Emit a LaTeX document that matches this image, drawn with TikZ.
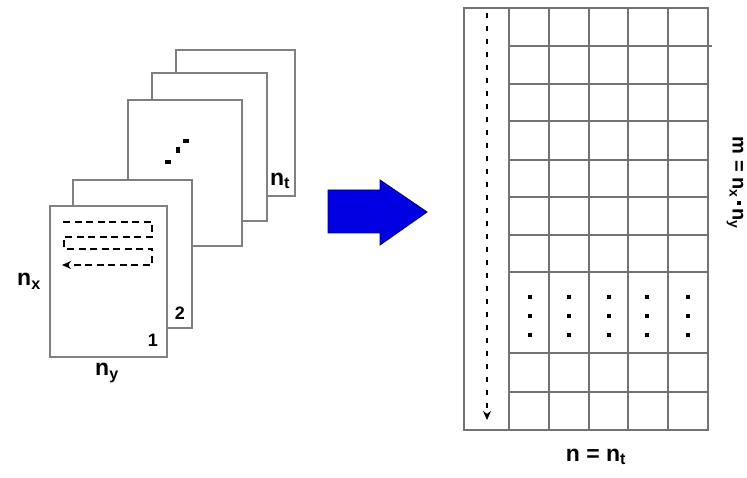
\documentclass[tikz,border=0pt]{standalone}
\usepackage{fontspec}
\setmainfont{Liberation Sans}
\usetikzlibrary{arrows.meta}
\tikzset{
  sheet/.style={draw=black!50, line width=1.1pt, fill=white},
  gridline/.style={draw=black!55, line width=1.1pt},
  scan/.style={draw=black, line width=1.8pt, dash pattern=on 7pt off 4.5pt},
  lbl/.style={font=\fontsize{23}{26}\selectfont\bfseries, inner sep=0pt},
  sidelbl/.style={font=\fontsize{20}{24}\selectfont\bfseries, inner sep=0pt},
  num/.style={font=\fontsize{18}{20}\selectfont\bfseries, inner sep=0pt},
  dotmark/.style={fill=black, draw=none},
  bigarrow/.style={fill=blue!88!black, draw=blue!40!black, line width=0.9pt, line join=miter},
}
\newcommand{\sqdot}{\,\raisebox{0.22em}{\rule{0.2em}{0.2em}}\,}
\begin{document}
\begin{tikzpicture}[x=1pt,y=-1pt]
\useasboundingbox (0,0) rectangle (747,478);

% stack of frames, back to front
\draw[sheet] (176,50) rectangle (295,196);
\draw[sheet] (152,73) rectangle (267,221);
\draw[sheet] (128,100) rectangle (242,246);
\draw[sheet] (73,180) rectangle (192,328);
\draw[sheet] (50,206) rectangle (167,357);

% ellipsis on the middle frame
\fill[dotmark] (165,160) rectangle (171,164.5);
\fill[dotmark] (176,147) rectangle (180,153);
\fill[dotmark] (183,139) rectangle (189,143);

% raster scan order on the first frame
\coordinate (s0) at (63,222);
\coordinate (s1) at (152,222);
\coordinate (s2) at (152,237);
\coordinate (s3) at (64,237);
\coordinate (s4) at (64,249);
\coordinate (s5) at (152,249);
\coordinate (s6) at (152,265);
\coordinate (s7) at (62,265);
\draw[scan, -{Stealth[length=9pt,width=8pt]}] (s0) -- (s1) -- (s2) -- (s3) -- (s4) -- (s5) -- (s6) -- (s7);

% frame labels
\node[lbl] (nx) at (29,281) {n\textsubscript{x}};
\node[lbl] (ny) at (107,373) {n\textsubscript{y}};
\node[num] (f1) at (153,340) {1};
\node[num] (f2) at (180,313) {2};
\node[lbl] (nt) at (280,181) {n\textsubscript{t}};

% transformation arrow
\draw[bigarrow] (328,190) -- (380,190) -- (380,180) -- (427,212) -- (380,245) -- (380,233) -- (328,233) -- cycle;

% data matrix
\draw[gridline] (464,8) rectangle (708,430);
\foreach \x in {509,549,589,628,668}
  \draw[gridline] (\x,8) -- (\x,430);
\foreach \y in {84,121,160,197,235,272,353,392}
  \draw[gridline] (509,\y) -- (708,\y);
\draw[gridline] (509,46) -- (712,46);

% vertical dots in the tall row
\foreach \x in {530,569,609,647,688}
  \foreach \y in {297,316,335}
    \fill[dotmark] (\x-2,\y-1.8) rectangle (\x+2,\y+1.8);

% column read-out order
\coordinate (c0) at (487,13);
\coordinate (c1) at (487,420);
\draw[draw=black, line width=1.6pt, dash pattern=on 5pt off 8pt, -{Stealth[length=9pt,width=8pt]}] (c0) -- (c1);

% matrix labels
\node[lbl] (nn) at (596,457) {n = n\textsubscript{t}};
\node[sidelbl, rotate=-90] (mm) at (735,183) {m = n\textsubscript{x}\sqdot n\textsubscript{y}};
\end{tikzpicture}
\end{document}
